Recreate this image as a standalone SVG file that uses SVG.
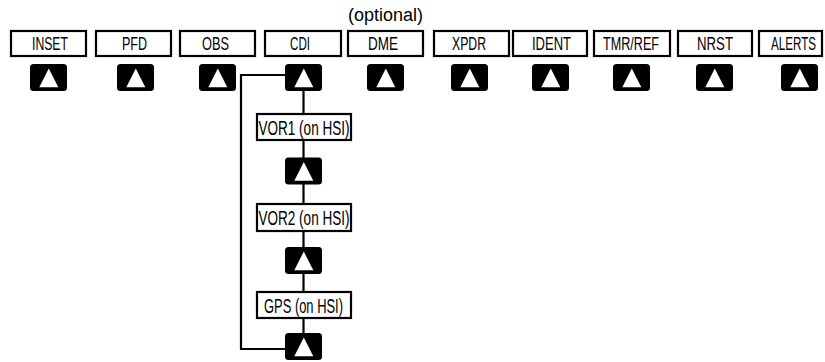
<svg xmlns="http://www.w3.org/2000/svg" width="825" height="362" viewBox="0 0 825 362">
<defs>
<style>
.box{fill:#fff;stroke:#000;stroke-width:2.2}
.lbl{font-family:"Liberation Sans Narrow","Liberation Sans",Arial,sans-serif;font-size:17.5px;fill:#000}
.vlbl{font-family:"Liberation Sans Narrow","Liberation Sans",Arial,sans-serif;font-size:21px;fill:#000}
.opt{font-family:"Liberation Sans",Arial,sans-serif;font-size:18px;fill:#000}
.wire{fill:none;stroke:#000;stroke-width:2.2}
.btnbg{fill:#000}
.tri{fill:#fff}
</style>
<g id="btn">
<rect class="btnbg" x="0" y="0" width="37" height="27" rx="3.5"/>
<polygon class="tri" points="18.8,4.5 28.3,23.3 9.3,23.3"/>
</g>
</defs>
<rect width="825" height="362" fill="#fff"/>

<g id="connectors">
<path class="wire" d="M303.5,91 V113"/>
<path class="wire" d="M303.5,141 V158"/>
<path class="wire" d="M303.5,184 V203"/>
<path class="wire" d="M303.5,232 V247"/>
<path class="wire" d="M303.5,274 V291"/>
<path class="wire" d="M303.5,319 V333"/>
<path class="wire" d="M285,349 H241 V75 H285"/>
</g>

<text class="opt" x="348" y="21" textLength="75" lengthAdjust="spacingAndGlyphs">(optional)</text>

<g id="inset"><rect class="box" x="11" y="31" width="75" height="25"/><text class="lbl" x="32" y="50" textLength="36" lengthAdjust="spacingAndGlyphs">INSET</text></g>
<g id="pfd"><rect class="box" x="96" y="31" width="75" height="25"/><text class="lbl" x="122" y="50" textLength="25" lengthAdjust="spacingAndGlyphs">PFD</text></g>
<g id="obs"><rect class="box" x="180" y="31" width="75" height="25"/><text class="lbl" x="202" y="50" textLength="27" lengthAdjust="spacingAndGlyphs">OBS</text></g>
<g id="cdi"><rect class="box" x="265" y="31" width="76" height="25"/><text class="lbl" x="290" y="50" textLength="20" lengthAdjust="spacingAndGlyphs">CDI</text></g>
<g id="dme"><rect class="box" x="348" y="31" width="75" height="25"/><text class="lbl" x="368" y="50" textLength="30" lengthAdjust="spacingAndGlyphs">DME</text></g>
<g id="xpdr"><rect class="box" x="434" y="31" width="75" height="25"/><text class="lbl" x="452" y="50" textLength="34" lengthAdjust="spacingAndGlyphs">XPDR</text></g>
<g id="ident"><rect class="box" x="513" y="31" width="74" height="25"/><text class="lbl" x="532" y="50" textLength="39" lengthAdjust="spacingAndGlyphs">IDENT</text></g>
<g id="tmrref"><rect class="box" x="594" y="31" width="76" height="25"/><text class="lbl" x="603" y="50" textLength="56" lengthAdjust="spacingAndGlyphs">TMR/REF</text></g>
<g id="nrst"><rect class="box" x="678" y="31" width="74" height="25"/><text class="lbl" x="697" y="50" textLength="36" lengthAdjust="spacingAndGlyphs">NRST</text></g>
<g id="alerts"><rect class="box" x="759" y="31" width="63" height="25"/><text class="lbl" x="771" y="50" textLength="45" lengthAdjust="spacingAndGlyphs">ALERTS</text></g>

<g id="btn-inset"><use href="#btn" x="30" y="64"/></g>
<g id="btn-pfd"><use href="#btn" x="117" y="64"/></g>
<g id="btn-obs"><use href="#btn" x="199" y="64"/></g>
<g id="btn-cdi"><use href="#btn" x="285" y="64"/></g>
<g id="btn-dme"><use href="#btn" x="367" y="64"/></g>
<g id="btn-xpdr"><use href="#btn" x="451" y="64"/></g>
<g id="btn-ident"><use href="#btn" x="532" y="64"/></g>
<g id="btn-tmrref"><use href="#btn" x="613" y="64"/></g>
<g id="btn-nrst"><use href="#btn" x="696" y="64"/></g>
<g id="btn-alerts"><use href="#btn" x="781" y="64"/></g>

<g id="vor1"><rect class="box" x="257" y="114" width="94" height="26"/><text class="vlbl" x="258.5" y="134.5" textLength="91" lengthAdjust="spacingAndGlyphs">VOR1 (on HSI)</text></g>
<g id="btn-vor1"><use href="#btn" x="285" y="157.5"/></g>
<g id="vor2"><rect class="box" x="257" y="204" width="94" height="27"/><text class="vlbl" x="258.5" y="225" textLength="91" lengthAdjust="spacingAndGlyphs">VOR2 (on HSI)</text></g>
<g id="btn-vor2"><use href="#btn" x="285" y="247"/></g>
<g id="gps"><rect class="box" x="257" y="292" width="94" height="26"/><text class="vlbl" x="264" y="312.5" textLength="79" lengthAdjust="spacingAndGlyphs">GPS (on HSI)</text></g>
<g id="btn-gps"><use href="#btn" x="285" y="333"/></g>
</svg>
